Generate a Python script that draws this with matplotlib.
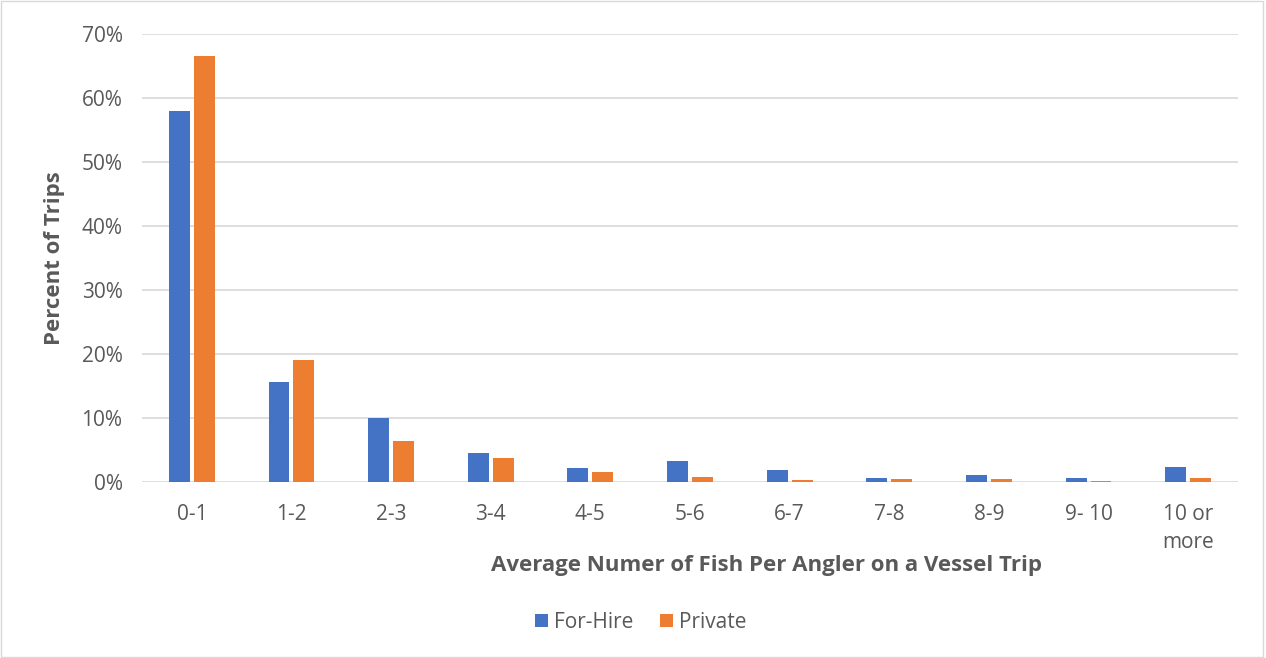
import numpy as np
import matplotlib.pyplot as plt
from matplotlib.patches import Rectangle

categories = ['0-1', '1-2', '2-3', '3-4', '4-5', '5-6', '6-7', '7-8', '8-9', '9- 10', '10 or\nmore']
for_hire = [58.0, 15.6, 10.0, 4.6, 2.2, 3.3, 1.8, 0.6, 1.1, 0.6, 2.3]
private = [66.6, 19.0, 6.4, 3.7, 1.6, 0.8, 0.3, 0.5, 0.4, 0.1, 0.6]

plt.rcParams['font.family'] = ['Open Sans', 'DejaVu Sans']
grey = '#595959'

fig = plt.figure(figsize=(12.66, 6.58), dpi=100)
ax = fig.add_axes([142/1266, 1-482/658, 1096/1266, 448/658])

x = np.arange(len(categories))
w = 0.21
ax.bar(x - 0.125, for_hire, w, color='#4472C4', label='For-Hire', zorder=3)
ax.bar(x + 0.125, private, w, color='#ED7D31', label='Private', zorder=3)

ax.set_xlim(-0.5, len(categories) - 0.5)
ax.set_ylim(0, 70)
ax.set_yticks(range(0, 71, 10))
ax.set_yticklabels([f'{v}%' for v in range(0, 71, 10)])
ax.set_xticks(x)
ax.set_xticklabels(categories, linespacing=1.45)
ax.tick_params(axis='both', length=0, labelsize=15, colors=grey)
ax.tick_params(axis='x', pad=16)
ax.tick_params(axis='y', pad=14)
ax.grid(axis='y', color='#D9D9D9', linewidth=1.2, zorder=0)
for s in ax.spines.values():
    s.set_visible(False)

ax.set_ylabel('Percent of Trips', fontsize=16, fontweight='bold', color=grey, labelpad=12)
ax.set_xlabel('Average Numer of Fish Per Angler on a Vessel Trip', fontsize=16,
              fontweight='bold', color=grey)
ax.xaxis.set_label_coords(0.570, -0.163)

leg = fig.legend(loc='center', bbox_to_anchor=(641/1266, 1 - 622/658), ncol=2, frameon=False,
                 fontsize=15, handlelength=0.6, handleheight=0.6, handletextpad=0.3,
                 columnspacing=1.3)
for t in leg.get_texts():
    t.set_color(grey)

fig.patches.append(Rectangle((0.001, 0.001), 0.997, 0.997, transform=fig.transFigure,
                             fill=False, edgecolor='#D9D9D9', linewidth=1))

fig.savefig('out.png', dpi=100)
